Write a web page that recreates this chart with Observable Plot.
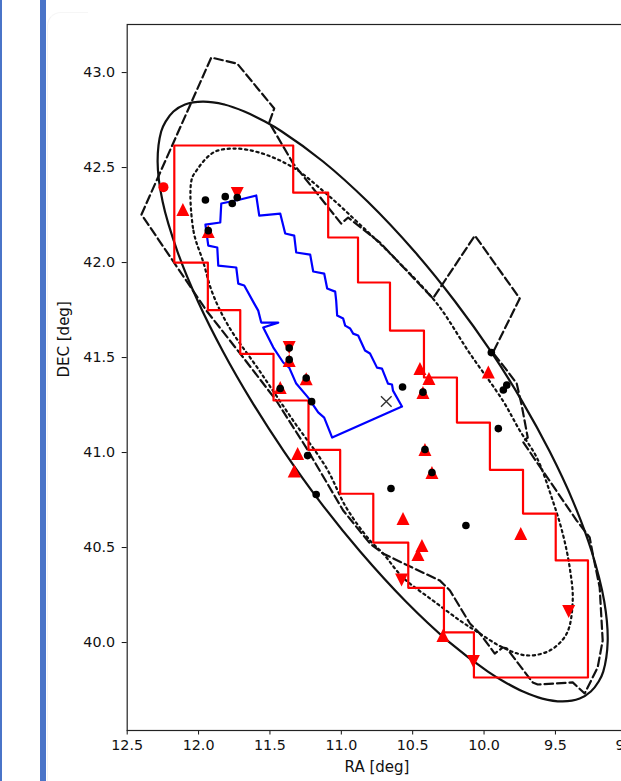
<!DOCTYPE html>
<html>
<head>
<meta charset="utf-8">
<script src="https://cdn.jsdelivr.net/npm/d3@7"></script>
<script src="https://cdn.jsdelivr.net/npm/@observablehq/plot@0.6"></script>
<style>
  html, body { margin: 0; padding: 0; background: #fff; overflow: hidden; width: 621px; height: 781px; }
  #wrap { position: absolute; left: 0; top: 0; width: 621px; height: 781px; overflow: hidden; }
  #chart { position: absolute; left: 0; top: 0; }
  .bar { position: absolute; top: 0; height: 781px; background: #4a74c8; }
  .card { position: absolute; left: 47px; top: 12px; width: 40px; height: 800px; border-left: 1px solid #f3f3f3; border-top: 1px solid #f6f6f6; border-top-left-radius: 14px; }
</style>
</head>
<body>
<div id="wrap">
  <div class="card"></div>
  <div id="chart"></div>
  <div class="bar" style="left:0;width:2px"></div>
  <div class="bar" style="left:40px;width:6px"></div>
</div>
<script>
// ---- axis ticks ----
const xTicks = [12.5, 12.0, 11.5, 11.0, 10.5, 10.0, 9.5, 9.0];
const yTicks = [40.0, 40.5, 41.0, 41.5, 42.0, 42.5, 43.0];

// ---- outlines [RA, DEC] ----
const ellipseOutline = [
  [11.971, 42.847], [11.820, 42.832], [11.679, 42.795], [11.535, 42.742], [11.417, 42.690],
  [11.128, 42.532], [10.816, 42.321], [10.487, 42.058], [10.203, 41.795], [9.952, 41.532],
  [9.732, 41.268], [9.540, 41.005], [9.376, 40.742], [9.246, 40.479], [9.158, 40.216],
  [9.134, 40.005], [9.165, 39.847], [9.197, 39.795], [9.252, 39.742], [9.330, 39.705],
  [9.450, 39.690], [9.592, 39.705], [9.727, 39.742], [9.862, 39.795], [9.973, 39.847],
  [10.248, 40.005], [10.548, 40.216], [10.868, 40.479], [11.150, 40.742], [11.401, 41.005],
  [11.627, 41.268], [11.829, 41.532], [12.004, 41.795], [12.148, 42.058], [12.252, 42.321],
  [12.287, 42.532], [12.262, 42.690], [12.231, 42.742], [12.176, 42.795], [12.095, 42.832]
];

const dottedContour = [
  [12.050, 42.432], [12.036, 42.168], [11.966, 42.000], [11.904, 41.842], [11.792, 41.668],
  [11.575, 41.432], [11.337, 41.168], [11.106, 40.921], [10.966, 40.711], [10.799, 40.537],
  [10.708, 40.469], [10.568, 40.342], [10.358, 40.221], [10.169, 40.116], [10.029, 40.047],
  [9.869, 39.974], [9.701, 39.932], [9.540, 39.958], [9.421, 40.047], [9.379, 40.221],
  [9.400, 40.395], [9.449, 40.574], [9.519, 40.747], [9.631, 40.974], [9.750, 41.116],
  [9.869, 41.274], [10.099, 41.521], [10.330, 41.784], [10.610, 42.011], [10.876, 42.205],
  [11.106, 42.363], [11.337, 42.500], [11.575, 42.579], [11.757, 42.600], [11.897, 42.579],
  [12.015, 42.484]
];

const dashedFootprint = [
  [12.400, 42.253], [11.911, 43.079], [11.729, 43.047], [11.470, 42.811], [11.505, 42.737],
  [11.337, 42.521], [11.001, 42.205], [10.952, 42.237], [10.729, 42.105], [10.358, 41.811],
  [10.064, 42.142], [9.750, 41.811], [9.938, 41.526], [9.855, 41.447], [9.771, 41.363],
  [9.736, 41.247], [9.694, 41.079], [9.729, 41.058], [9.351, 40.642], [9.260, 40.553],
  [9.239, 40.469], [9.190, 40.290], [9.169, 40.011], [9.204, 39.869], [9.295, 39.732],
  [9.379, 39.790], [9.624, 39.779], [9.659, 39.790], [9.841, 39.969], [9.869, 39.974],
  [9.925, 39.942], [10.029, 40.047], [10.099, 40.100], [10.239, 40.274], [10.309, 40.326],
  [10.533, 40.405], [10.708, 40.469], [10.799, 40.521], [10.987, 40.695], [11.246, 41.026],
  [11.456, 41.274], [11.687, 41.500], [11.945, 41.747], [12.134, 41.958]
];

const redSteps = [
  [12.170, 42.616], [11.337, 42.616], [11.337, 42.368], [11.092, 42.368], [11.092, 42.132],
  [10.883, 42.132], [10.883, 41.895], [10.659, 41.895], [10.659, 41.642], [10.421, 41.642],
  [10.421, 41.395], [10.190, 41.395], [10.190, 41.158], [9.959, 41.158], [9.959, 40.909],
  [9.727, 40.909], [9.727, 40.679], [9.498, 40.679], [9.498, 40.432], [9.272, 40.432],
  [9.272, 39.816], [10.071, 39.816], [10.071, 40.053], [10.281, 40.053], [10.281, 40.288],
  [10.531, 40.288], [10.531, 40.526], [10.776, 40.526], [10.776, 40.783], [11.008, 40.783],
  [11.008, 41.014], [11.230, 41.014], [11.230, 41.274], [11.475, 41.274], [11.475, 41.519],
  [11.708, 41.519], [11.708, 41.750], [11.935, 41.750], [11.935, 42.000], [12.170, 42.000]
];

const blueField = [
  [11.952, 42.200], [11.848, 42.211], [11.841, 42.311], [11.708, 42.332], [11.596, 42.353],
  [11.575, 42.247], [11.428, 42.258], [11.393, 42.153], [11.330, 42.142], [11.316, 42.053],
  [11.218, 42.042], [11.197, 41.953], [11.120, 41.942], [11.099, 41.863], [11.043, 41.847],
  [11.036, 41.800], [11.029, 41.721], [10.987, 41.705], [10.973, 41.668], [10.938, 41.653],
  [10.917, 41.626], [10.882, 41.616], [10.834, 41.537], [10.799, 41.521], [10.750, 41.447],
  [10.715, 41.442], [10.673, 41.363], [10.645, 41.358], [10.638, 41.326], [10.575, 41.242],
  [11.064, 41.079], [11.120, 41.184], [11.162, 41.211], [11.232, 41.289], [11.316, 41.363],
  [11.365, 41.447], [11.407, 41.474], [11.477, 41.554], [11.547, 41.658], [11.442, 41.684],
  [11.561, 41.684], [11.582, 41.747], [11.610, 41.784], [11.680, 41.879], [11.722, 41.889],
  [11.736, 41.974], [11.862, 41.984], [11.869, 42.079], [11.932, 42.089]
];

// ---- markers [RA, DEC] ----
const blackDots = [
  [11.952, 42.329], [11.813, 42.347], [11.764, 42.311], [11.729, 42.342], [11.932, 42.168],
  [11.365, 41.550], [11.365, 41.489], [11.246, 41.392], [11.428, 41.337], [11.208, 41.268],
  [11.236, 40.984], [11.176, 40.779], [10.571, 41.345], [10.428, 41.318], [9.949, 41.526],
  [9.865, 41.329], [9.841, 41.355], [9.900, 41.126], [10.414, 41.016], [10.365, 40.895],
  [10.652, 40.811], [10.127, 40.616]
];
const redUp = [
  [12.110, 42.279], [11.932, 42.163], [11.365, 41.484], [11.246, 41.389], [11.428, 41.342],
  [11.306, 40.995], [11.330, 40.903], [10.449, 41.442], [10.386, 41.390], [10.428, 41.316],
  [9.970, 41.424], [10.414, 41.016], [10.365, 40.895], [10.568, 40.653], [9.743, 40.574],
  [10.435, 40.511], [10.463, 40.463], [10.288, 40.037]
];
const redDown = [
  [11.729, 42.363], [11.365, 41.553], [10.578, 40.329], [10.075, 39.900], [9.407, 40.163]
];
const redCircle = [[12.246, 42.397]];
const centerMark = [[10.685, 41.269]];

// ---- matplotlib-like marker shapes ----
const triUp = {draw(ctx, size) { const r = Math.sqrt(size / Math.PI); ctx.moveTo(0, -r); ctx.lineTo(r, r); ctx.lineTo(-r, r); ctx.closePath(); }};
const triDown = {draw(ctx, size) { const r = Math.sqrt(size / Math.PI); ctx.moveTo(0, r); ctx.lineTo(r, -r); ctx.lineTo(-r, -r); ctx.closePath(); }};
const xCross = {draw(ctx, size) { const r = Math.sqrt(size / Math.PI); ctx.moveTo(-r, -r); ctx.lineTo(r, r); ctx.moveTo(r, -r); ctx.lineTo(-r, r); }};

const X = d => d[0], Y = d => d[1];

const chart = Plot.plot({
  width: 640,
  height: 781,
  marginLeft: 126.7,
  marginRight: 13.7,
  marginTop: 24,
  marginBottom: 51,
  style: {fontFamily: "'DejaVu Sans', sans-serif", fontSize: "14.3px", color: "#111", background: "transparent", maxWidth: "none", overflow: "visible"},
  x: {domain: [12.5, 9.0], ticks: xTicks, tickFormat: d => d.toFixed(1), tickSize: 4.5, tickPadding: 5, label: null},
  y: {domain: [39.537, 43.253], ticks: yTicks, tickFormat: d => d.toFixed(1), tickSize: 5, tickPadding: 7, label: null},
  marks: [
    Plot.frame({stroke: "#222", strokeWidth: 1.2}),
    Plot.line(ellipseOutline, {x: X, y: Y, curve: "catmull-rom-closed", stroke: "#111", strokeWidth: 2.2}),
    Plot.line(dottedContour, {x: X, y: Y, curve: "catmull-rom-closed", stroke: "#111", strokeWidth: 2.2, strokeDasharray: "2.2,3.6"}),
    Plot.line(dashedFootprint, {x: X, y: Y, curve: "linear-closed", stroke: "#111", strokeWidth: 2.2, strokeDasharray: "8.5,4"}),
    Plot.line(redSteps, {x: X, y: Y, curve: "linear-closed", stroke: "#ff0000", strokeWidth: 2.2}),
    Plot.line(blueField, {x: X, y: Y, curve: "linear-closed", stroke: "#0000ff", strokeWidth: 2.2}),
    Plot.dot(redUp, {x: X, y: Y, symbol: triUp, r: 6.5, fill: "#ff0000", stroke: "none"}),
    Plot.dot(redDown, {x: X, y: Y, symbol: triDown, r: 6.5, fill: "#ff0000", stroke: "none"}),
    Plot.dot(redCircle, {x: X, y: Y, r: 5, fill: "#ff0000", stroke: "none"}),
    Plot.dot(blackDots, {x: X, y: Y, r: 3.8, fill: "#000", stroke: "none"}),
    Plot.dot(centerMark, {x: X, y: Y, symbol: xCross, r: 5.3, fill: "none", stroke: "#333", strokeWidth: 1.4}),
    Plot.text(["RA [deg]"], {text: d => d, frameAnchor: "bottom", dy: 41, fontSize: 15, fill: "#111"}),
    Plot.text(["DEC [deg]"], {text: d => d, frameAnchor: "left", dx: -63, rotate: -90, fontSize: 15, fill: "#111"})
  ]
});
document.getElementById("chart").appendChild(chart);
</script>
</body>
</html>
